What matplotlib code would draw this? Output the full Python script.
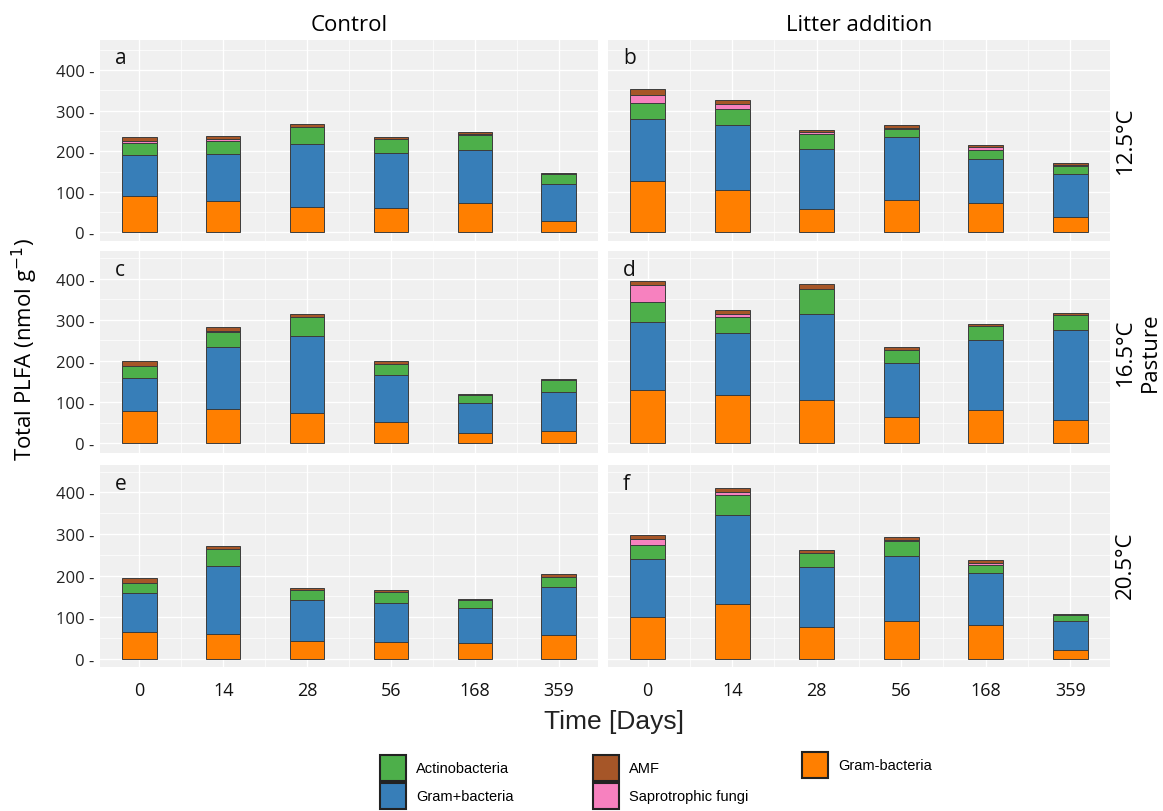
import numpy as np
import matplotlib
matplotlib.use("Agg")
import matplotlib.pyplot as plt
from matplotlib.patches import Patch
from matplotlib.ticker import MultipleLocator

plt.rcParams['font.family'] = ['Open Sans', 'DejaVu Sans']

# Sampling days (x categories) and panels (a-f, row by row)
days = ['0', '14', '28', '56', '168', '359']
panels = ['a', 'b', 'c', 'd', 'e', 'f']
temps = ['12.5°C', '16.5°C', '20.5°C']
treatments = ['Control', 'Litter addition']

# PLFA groups per panel, nmol g-1
gram_neg = {
    'a': [90, 78, 63, 59, 73, 29],
    'b': [127, 104, 57, 79, 73, 38],
    'c': [78, 83, 73, 53, 26, 29],
    'd': [130, 118, 106, 64, 81, 57],
    'e': [63, 60, 43, 40, 37, 56],
    'f': [101, 132, 76, 91, 80, 20],
}
gram_pos = {
    'a': [101, 115, 154, 136, 130, 90],
    'b': [153, 160, 148, 157, 109, 105],
    'c': [82, 151, 187, 113, 72, 97],
    'd': [164, 150, 209, 132, 170, 219],
    'e': [94, 163, 98, 94, 85, 116],
    'f': [139, 213, 144, 157, 125, 71],
}
actino = {
    'a': [30, 33, 42, 36, 36, 24],
    'b': [40, 41, 38, 20, 22, 21],
    'c': [27, 37, 47, 28, 19, 27],
    'd': [49, 38, 59, 32, 33, 35],
    'e': [25, 41, 24, 26, 20, 25],
    'f': [34, 49, 34, 35, 21, 14],
}
sapro = {
    'a': [4, 4, 1, 0, 4, 0],
    'b': [19, 12, 4, 2, 6, 2],
    'c': [2, 3, 0, 0, 0, 0],
    'd': [41, 8, 1, 0, 0, 0],
    'e': [1, 0, 0, 0, 0, 0],
    'f': [14, 8, 1, 3, 5, 0],
}
amf = {
    'a': [10, 8, 8, 4, 4, 4],
    'b': [15, 10, 5, 7, 5, 4],
    'c': [10, 8, 7, 7, 4, 3],
    'd': [11, 11, 11, 6, 5, 6],
    'e': [10, 6, 5, 5, 2, 6],
    'f': [10, 9, 6, 7, 6, 2],
}

colors = {
    'Gram-bacteria': '#FF7F00',
    'Gram+bacteria': '#377EB8',
    'Actinobacteria': '#4DAF4A',
    'Saprotrophic fungi': '#F781BF',
    'AMF': '#A65628',
}
stack = [('Gram-bacteria', gram_neg), ('Gram+bacteria', gram_pos),
         ('Actinobacteria', actino), ('Saprotrophic fungi', sapro),
         ('AMF', amf)]

fig = plt.figure(figsize=(11.63, 8.12), dpi=100)

lefts = [0.086, 0.5228]
widths = [0.4282, 0.4316]
bottoms = [0.702, 0.4415, 0.1775]
height = 0.248
ylims = [(-21, 475), (-22, 467), (-20, 465)]

x = np.arange(1, len(days) + 1)
for i, p in enumerate(panels):
    row, col = i // 2, i % 2
    ax = fig.add_axes([lefts[col], bottoms[row], widths[col], height])
    ax.set_facecolor('#F0F0F0')

    base = np.zeros(len(days))
    for name, data in stack:
        vals = np.array(data[p], dtype=float)
        ax.bar(x, vals, 0.41, bottom=base, color=colors[name],
               edgecolor='#3c3c3c', linewidth=0.7, zorder=3)
        base += vals

    ax.set_xlim(0.53, 6.47)
    ax.set_ylim(*ylims[row])
    ax.set_xticks(x)
    ax.xaxis.set_minor_locator(MultipleLocator(0.5))
    ax.set_yticks([0, 100, 200, 300, 400])
    ax.yaxis.set_minor_locator(MultipleLocator(50))
    ax.grid(which='major', color='white', linewidth=1.0, zorder=0)
    ax.grid(which='minor', color='white', linewidth=0.5, zorder=0)
    ax.set_axisbelow(True)
    for s in ax.spines.values():
        s.set_visible(False)
    ax.tick_params(which='both', length=0)

    if col == 0:
        ax.set_yticklabels([f'{v} -' for v in [0, 100, 200, 300, 400]],
                           fontsize=12, color='#222222')
        ax.tick_params(axis='y', pad=4)
    else:
        ax.set_yticklabels([])
    if row == 2:
        ax.set_xticklabels(days, fontsize=13, color='#111111')
        ax.tick_params(axis='x', pad=10)
    else:
        ax.set_xticklabels([])

    ax.text(0.03, 0.91, p, transform=ax.transAxes, fontsize=15,
            va='center', ha='left', color='#111111')

# column titles
fig.text(0.30, 0.969, treatments[0], fontsize=16, ha='center', va='center')
fig.text(0.739, 0.969, treatments[1], fontsize=16, ha='center', va='center')

# row labels
for t, yy in zip(temps, [0.8276, 0.5665, 0.304]):
    fig.text(0.968, yy, t, fontsize=16, rotation=90, ha='center', va='center')
fig.text(0.989, 0.5665, 'Pasture', fontsize=16, rotation=90,
         ha='center', va='center')

fig.text(0.0215, 0.57, 'Total PLFA (nmol g$^{-1}$)', fontsize=16,
         rotation=90, ha='center', va='center')
fig.text(0.528, 0.111, 'Time [Days]', fontsize=19, ha='center', va='center',
         family='Liberation Sans', color='#222222')

# legend, three columns like the original
def handle(name):
    return Patch(facecolor=colors[name], edgecolor='#222222', linewidth=1.5)

leg_cols = [
    (['Actinobacteria', 'Gram+bacteria'], 380, 756),
    (['AMF', 'Saprotrophic fungi'], 593, 756),
    (['Gram-bacteria'], 802, 753),
]
for names, px, py in leg_cols:
    leg = fig.legend([handle(n) for n in names], names, loc='upper left',
                     bbox_to_anchor=(px / 1163, 1 - py / 812),
                     frameon=False, borderpad=0, borderaxespad=0,
                     handlelength=1.75, handleheight=2.35, labelspacing=0.15,
                     handletextpad=0.75,
                     prop={'family': 'Liberation Sans', 'size': 10.5})

fig.savefig('out.png', dpi=100)
